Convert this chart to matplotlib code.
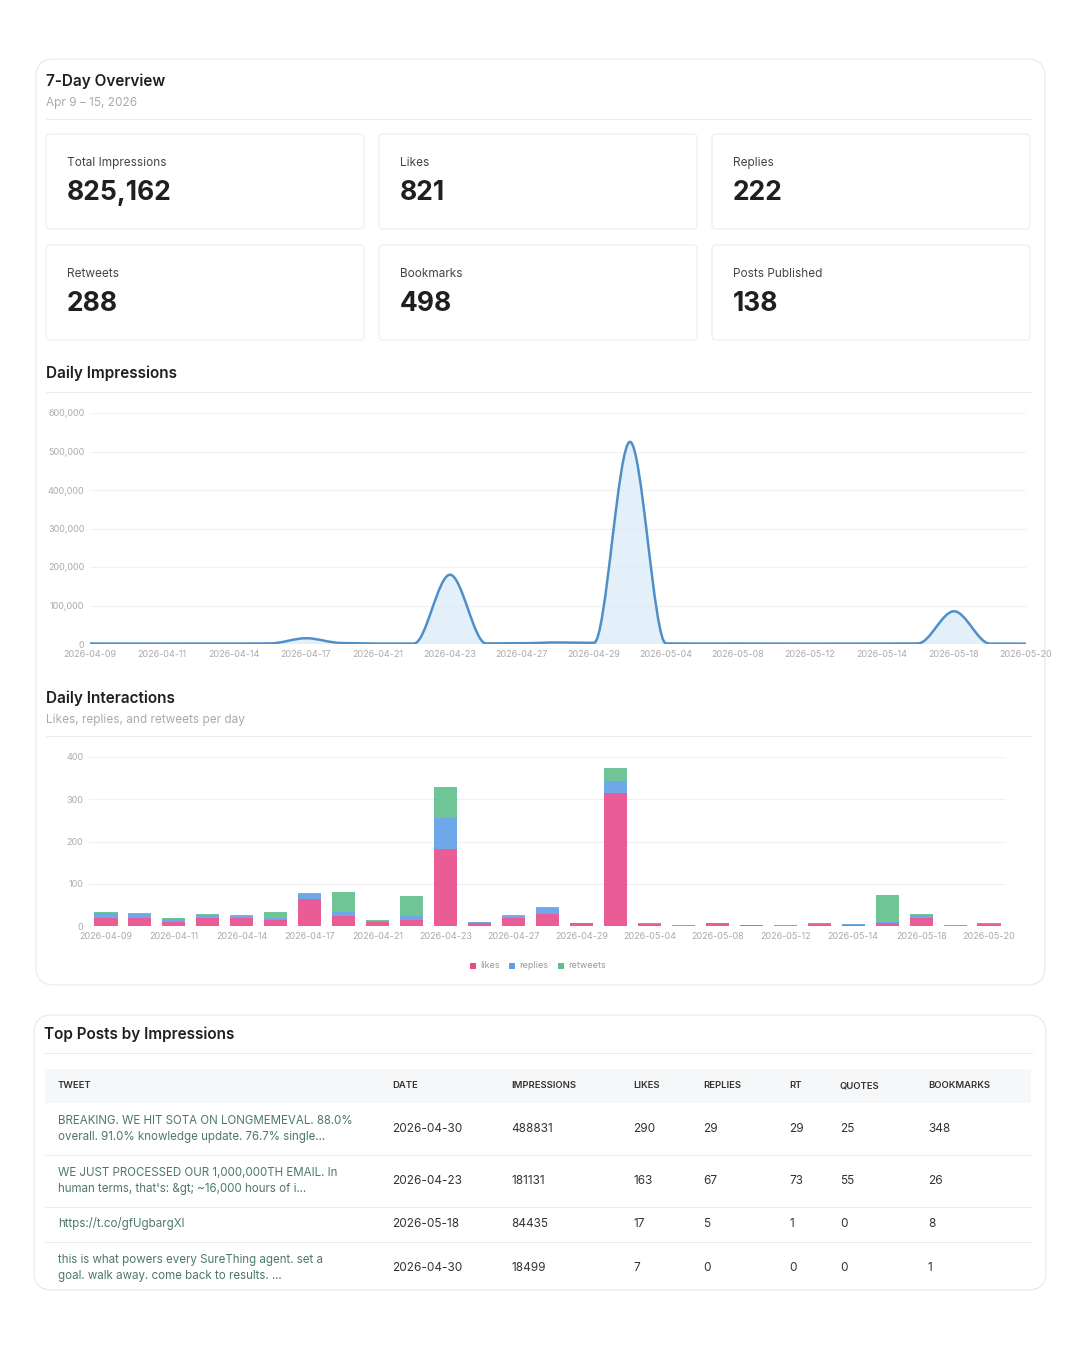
import numpy as np
import matplotlib.pyplot as plt
from matplotlib.patches import FancyBboxPatch, Rectangle, PathPatch
from matplotlib.path import Path

plt.rcParams['font.family'] = ['Inter', 'DejaVu Sans']

dates = ['2026-04-09', '2026-04-10', '2026-04-11', '2026-04-13', '2026-04-14', '2026-04-16',
         '2026-04-17', '2026-04-19', '2026-04-21', '2026-04-22', '2026-04-23', '2026-04-25',
         '2026-04-27', '2026-04-28', '2026-04-29', '2026-04-30', '2026-05-04', '2026-05-06',
         '2026-05-08', '2026-05-10', '2026-05-12', '2026-05-13', '2026-05-14', '2026-05-16',
         '2026-05-18', '2026-05-19', '2026-05-20']
impressions = [1200, 1000, 900, 1100, 1000, 1500, 15000, 2500, 1000, 1200, 180000, 1500, 2000,
               4000, 3000, 525000, 1500, 1000, 1200, 900, 800, 900, 1000, 1500, 85000, 1000, 800]
likes = [18, 20, 10, 20, 18, 14, 63, 24, 10, 15, 183, 6, 18, 29, 6, 314, 4, 1, 7, 2, 1, 4, 3, 6, 20, 1, 5]
replies = [12, 8, 7, 7, 6, 6, 13, 10, 3, 8, 72, 3, 6, 13, 1, 30, 3, 1, 1, 1, 1, 2, 1, 3, 7, 1, 1]
retweets = [2, 2, 1, 1, 1, 13, 3, 46, 1, 48, 74, 1, 1, 2, 0, 30, 0, 0, 0, 0, 0, 0, 1, 64, 1, 0, 0]

stats = [('Total Impressions', '825,162'), ('Likes', '821'), ('Replies', '222'),
         ('Retweets', '288'), ('Bookmarks', '498'), ('Posts Published', '138')]

table_cols = ['TWEET', 'DATE', 'IMPRESSIONS', 'LIKES', 'REPLIES', 'RT', 'QUOTES', 'BOOKMARKS']
table_rows = [
    ['BREAKING. WE HIT SOTA ON LONGMEMEVAL. 88.0%\noverall. 91.0% knowledge update. 76.7% single...',
     '2026-04-30', '488831', '290', '29', '29', '25', '348'],
    ["WE JUST PROCESSED OUR 1,000,000TH EMAIL. In\nhuman terms, that's: &gt; ~16,000 hours of i...",
     '2026-04-23', '181131', '163', '67', '73', '55', '26'],
    ['https://t.co/gfUgbargXl', '2026-05-18', '84435', '17', '5', '1', '0', '8'],
    ['this is what powers every SureThing agent. set a\ngoal. walk away. come back to results. ...',
     '2026-04-30', '18499', '7', '0', '0', '0', '1'],
]

W, H = 1080, 1350
fig = plt.figure(figsize=(10.8, 13.5), dpi=100)
bg = fig.add_axes([0, 0, 1, 1])
bg.set_xlim(0, W)
bg.set_ylim(H, 0)
bg.axis('off')

DARK = '#1f1f1f'
GRAY = '#9a9a9a'
LINE = '#ececec'


def card(x0, y0, x1, y1, ec='#e6e6e6', r=8, lw=0.8):
    bg.add_patch(FancyBboxPatch((x0, y0), x1 - x0, y1 - y0, boxstyle=f'round,pad=0,rounding_size={r}',
                                fc='white', ec=ec, lw=lw))


def hline(y, x0=46, x1=1030):
    bg.plot([x0, x1], [y, y], color=LINE, lw=0.8)


# overview card
card(36, 59, 1045, 985, ec='#dcefe0', r=18)
bg.text(46, 81, '7-Day Overview', fontsize=11, weight='semibold', color=DARK, va='center')
bg.text(46, 103, 'Apr 9 – 15, 2026', fontsize=8.5, color='#aaaaaa', va='center')
hline(119)

xs = [46, 379, 712]
ys = [134, 245]
for i, (lab, val) in enumerate(stats):
    x0 = xs[i % 3]
    y0 = ys[i // 3]
    card(x0, y0, x0 + 318, y0 + 95, ec='#ededed', r=4)
    bg.text(x0 + 21, y0 + 29, lab, fontsize=8.5, color='#444444', va='center')
    bg.text(x0 + 21, y0 + 59, val, fontsize=19, weight='bold', color=DARK, va='center')

bg.text(46, 373, 'Daily Impressions', fontsize=11, weight='semibold', color=DARK, va='center')
hline(392)
bg.text(46, 698, 'Daily Interactions', fontsize=11, weight='semibold', color=DARK, va='center')
bg.text(46, 720, 'Likes, replies, and retweets per day', fontsize=8.5, color='#aaaaaa', va='center')
hline(736)

n = len(dates)
idx = np.arange(n)

# line chart
ax1 = fig.add_axes([90 / W, 1 - 644 / H, (1026 - 90) / W, (644 - 413) / H])
ax1.set_xlim(0, n - 1)
ax1.set_ylim(0, 600000)
y = np.array(impressions, dtype=float)
# monotone-ish cubic bezier through the data points
verts = [(0, y[0])]
codes = [Path.MOVETO]
for i in range(n - 1):
    verts += [(i + 1 / 3, y[i]), (i + 2 / 3, y[i + 1]), (i + 1, y[i + 1])]
    codes += [Path.CURVE4] * 3
ax1.add_patch(PathPatch(Path(verts, codes), fc='none', ec='#4f8fc9', lw=1.8, zorder=3))
fill_verts = verts + [(n - 1, 0), (0, 0), (0, y[0])]
fill_codes = codes + [Path.LINETO, Path.LINETO, Path.CLOSEPOLY]
ax1.add_patch(PathPatch(Path(fill_verts, fill_codes), fc='#dcebf8', ec='none', alpha=0.8, zorder=2))
ax1.set_yticks(np.arange(0, 600001, 100000))
ax1.set_yticklabels([f'{v:,}' for v in range(0, 600001, 100000)])
ax1.set_xticks(idx[::2])
ax1.set_xticklabels(dates[::2])
ax1.grid(axis='y', color='#f0f0f0', lw=0.8)
ax1.set_axisbelow(True)

# bar chart
ax2 = fig.add_axes([89 / W, 1 - 926 / H, (1006 - 89) / W, (926 - 757) / H])
ax2.set_xlim(-0.5, n - 0.5)
ax2.set_ylim(0, 400)
ax2.set_clip_on(False)
b = np.array(likes)
r = np.array(replies)
t = np.array(retweets)
ax2.bar(idx, b, width=0.68, color='#e84a8b', alpha=0.9, zorder=2)
ax2.bar(idx, r, bottom=b, width=0.68, color='#5e9fe6', alpha=0.9, zorder=2)
ax2.bar(idx, t, bottom=b + r, width=0.68, color='#5fbf8b', alpha=0.9, zorder=2)
ax2.set_yticks([0, 100, 200, 300, 400])
ax2.set_xticks(idx[::2])
ax2.set_xticklabels(dates[::2])
ax2.grid(axis='y', color='#f0f0f0', lw=0.8)
ax2.set_axisbelow(True)

for ax in (ax1, ax2):
    for s in ax.spines.values():
        s.set_visible(False)
    ax.tick_params(length=0, labelsize=6.5, labelcolor='#aaaaaa', pad=4)
    for lab in ax.get_yticklabels():
        lab.set_horizontalalignment('right')

# legend
for x0, lab, c in [(470, 'likes', '#e84a8b'), (509, 'replies', '#5e9fe6'), (558, 'retweets', '#5fbf8b')]:
    bg.add_patch(Rectangle((x0, 963), 6, 6, fc=c, ec='none'))
    bg.text(x0 + 10, 966, lab, fontsize=6.5, color='#999999', va='center')

# top posts card
card(34, 1015, 1046, 1290, ec='#dcefe0', r=18)
bg.text(44, 1034, 'Top Posts by Impressions', fontsize=11, weight='semibold', color=DARK, va='center')
hline(1053, 44, 1032)
bg.add_patch(Rectangle((45, 1069), 986, 34, fc='#f6f7f8', ec='none'))
col_x = [58, 392, 511, 633, 703, 789, 840, 928]
for cx, c in zip(col_x, table_cols):
    bg.text(cx, 1086, c, fontsize=6.8, weight='semibold', color='#333333', va='center')
row_y = [1129, 1181, 1224, 1268]
for ry in [1155, 1207, 1242]:
    hline(ry, 45, 1031)
for ry, row in zip(row_y, table_rows):
    for j, (cx, v) in enumerate(zip(col_x, row)):
        if j == 0:
            bg.text(cx, ry, v, fontsize=8.3, color='#4d7a63', va='center', linespacing=1.55)
        else:
            bg.text(cx, ry, v, fontsize=8.5, color='#333333', va='center')

fig.savefig('out.png', dpi=100, facecolor='white')
